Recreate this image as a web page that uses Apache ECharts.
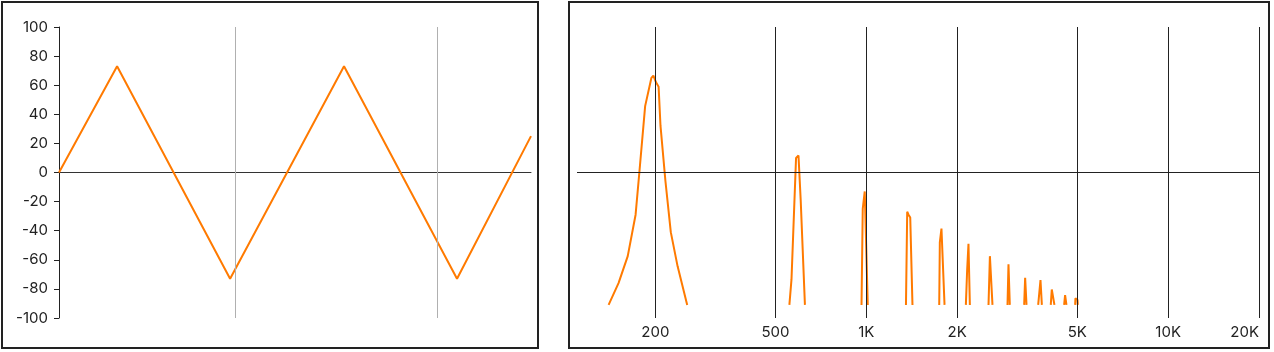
<!DOCTYPE html>
<html>
<head>
<meta charset="utf-8">
<script src="https://cdn.jsdelivr.net/npm/echarts@6/dist/echarts.min.js"></script>
<style>
html,body{margin:0;padding:0;background:#fff;}
#c{width:1274px;height:352px;}
</style>
</head>
<body>
<div id="c"></div>
<script>
// ---- Left panel: waveform ----
const waveTimeMs = [0, 1.28, 3.77, 6.28, 8.77, 10.4];
const waveLevel = [0, 73, -73, 73, -73, 25];
const waveGridMs = [3.88, 8.33];
const waveTimeMax = 10.4;
const levelMin = -100, levelMax = 100, levelStep = 20;

// ---- Right panel: spectrum (harmonic peaks) ----
const peak200Freq = [140, 151, 162, 172, 177, 185, 194, 197, 201, 205, 208, 216, 225, 237, 255];
const peak200Level = [-91, -76, -57.5, -29, 0, 45.6, 65, 66.5, 62, 59, 32, -6, -41, -64.5, -91];
const peak600Freq = [556, 565, 585, 596, 606, 626];
const peak600Level = [-91, -73.5, 10, 11.7, -18.6, -91];
const peak1000Freq = [964, 973, 988, 997, 1011];
const peak1000Level = [-91, -25, -13, -13, -91];
const peak1400Freq = [1353, 1366, 1380, 1398, 1422];
const peak1400Level = [-91, -27, -29, -31, -91];
const peak1800Freq = [1744, 1752, 1774, 1797, 1816];
const peak1800Level = [-91, -48, -38.5, -38.5, -91];
const peak2200Freq = [2137, 2158, 2180, 2191, 2203];
const peak2200Level = [-91, -67, -49, -50, -91];
const peak2600Freq = [2540, 2567, 2618];
const peak2600Level = [-91, -57.5, -91];
const peak3000Freq = [2936, 2958, 2988];
const peak3000Level = [-91, -63, -91];
const peak3400Freq = [3334, 3359, 3394];
const peak3400Level = [-91, -72.4, -91];
const peak3800Freq = [3710, 3776, 3816];
const peak3800Level = [-91, -74, -91];
const peak4200Freq = [4084, 4116, 4200];
const peak4200Level = [-91, -80.4, -91];
const peak4600Freq = [4522, 4556, 4603];
const peak4600Level = [-91, -84.3, -91];
const peak5000Freq = [4918, 4930, 5006, 5020];
const peak5000Level = [-91, -86.5, -87.5, -91];
const freqTicks = [200, 500, 1000, 2000, 5000, 10000, 20000];
const freqMin = 110, freqMax = 20000;

const peaks = [
  [peak200Freq, peak200Level], [peak600Freq, peak600Level], [peak1000Freq, peak1000Level],
  [peak1400Freq, peak1400Level], [peak1800Freq, peak1800Level], [peak2200Freq, peak2200Level],
  [peak2600Freq, peak2600Level], [peak3000Freq, peak3000Level], [peak3400Freq, peak3400Level],
  [peak3800Freq, peak3800Level], [peak4200Freq, peak4200Level], [peak4600Freq, peak4600Level],
  [peak5000Freq, peak5000Level]
];

const ORANGE = '#ff7a00';
const INK = '#222';
const FONT = 'Inter, "Noto Sans", sans-serif';

const zip = (a, b) => a.map((v, i) => [v, b[i]]);

const chart = echarts.init(document.getElementById('c'), null, {renderer: 'canvas'});

const series = [
  {
    type: 'line', xAxisIndex: 0, yAxisIndex: 0, data: [], z: 1, silent: true,
    markLine: {
      silent: true, symbol: ['none', 'none'], label: {show: false}, animation: false,
      lineStyle: {color: '#b0b0b0', width: 1, type: 'solid'},
      data: waveGridMs.map(v => ({xAxis: v}))
    }
  },
  {
    type: 'line', xAxisIndex: 0, yAxisIndex: 0, z: 3, silent: true,
    data: zip(waveTimeMs, waveLevel), showSymbol: false, symbol: 'none',
    lineStyle: {color: ORANGE, width: 2}
  },
  {
    type: 'line', xAxisIndex: 1, yAxisIndex: 1, data: [], z: 1, silent: true,
    markLine: {
      silent: true, symbol: ['none', 'none'], label: {show: false}, animation: false,
      lineStyle: {color: INK, width: 1, type: 'solid'},
      data: freqTicks.map(v => ({xAxis: v})).concat([{yAxis: 0}])
    }
  }
];
peaks.forEach(([f, l]) => {
  series.push({
    type: 'line', xAxisIndex: 1, yAxisIndex: 1, z: 3, silent: true,
    data: zip(f, l), showSymbol: false, symbol: 'none',
    lineStyle: {color: ORANGE, width: 2}
  });
});

chart.setOption({
  animation: false,
  textStyle: {fontFamily: FONT},
  graphic: [
    {type: 'rect', shape: {x: 2, y: 2, width: 536, height: 346}, style: {fill: 'none', stroke: INK, lineWidth: 2}, silent: true},
    {type: 'rect', shape: {x: 569, y: 2, width: 700, height: 346}, style: {fill: 'none', stroke: INK, lineWidth: 2}, silent: true}
  ],
  grid: [
    {left: 59, top: 27, width: 472, height: 291},
    {left: 577, top: 27, width: 682, height: 291}
  ],
  xAxis: [
    {
      type: 'value', gridIndex: 0, min: 0, max: waveTimeMax,
      axisLine: {show: true, onZero: true, lineStyle: {color: '#333', width: 1}},
      axisTick: {show: false}, axisLabel: {show: false}, splitLine: {show: false}
    },
    {
      type: 'log', gridIndex: 1, min: freqMin, max: freqMax, logBase: 10,
      axisLine: {show: false}, axisTick: {show: false}, splitLine: {show: false},
      axisLabel: {
        show: true, customValues: freqTicks, color: INK, fontSize: 15, fontFamily: FONT, margin: 7,
        alignMaxLabel: 'right',
        formatter: v => v >= 1000 ? (v / 1000) + 'K' : String(v)
      }
    }
  ],
  yAxis: [
    {
      type: 'value', gridIndex: 0, min: levelMin, max: levelMax, interval: levelStep,
      axisLine: {show: true, lineStyle: {color: INK, width: 1}},
      axisTick: {show: true, length: 5, lineStyle: {color: INK}},
      axisLabel: {color: INK, fontSize: 15, fontFamily: FONT, margin: 11},
      splitLine: {show: false}
    },
    {
      type: 'value', gridIndex: 1, min: levelMin, max: levelMax, interval: levelStep,
      axisLine: {show: false}, axisTick: {show: false}, axisLabel: {show: false}, splitLine: {show: false}
    }
  ],
  series: series
});
</script>
</body>
</html>
